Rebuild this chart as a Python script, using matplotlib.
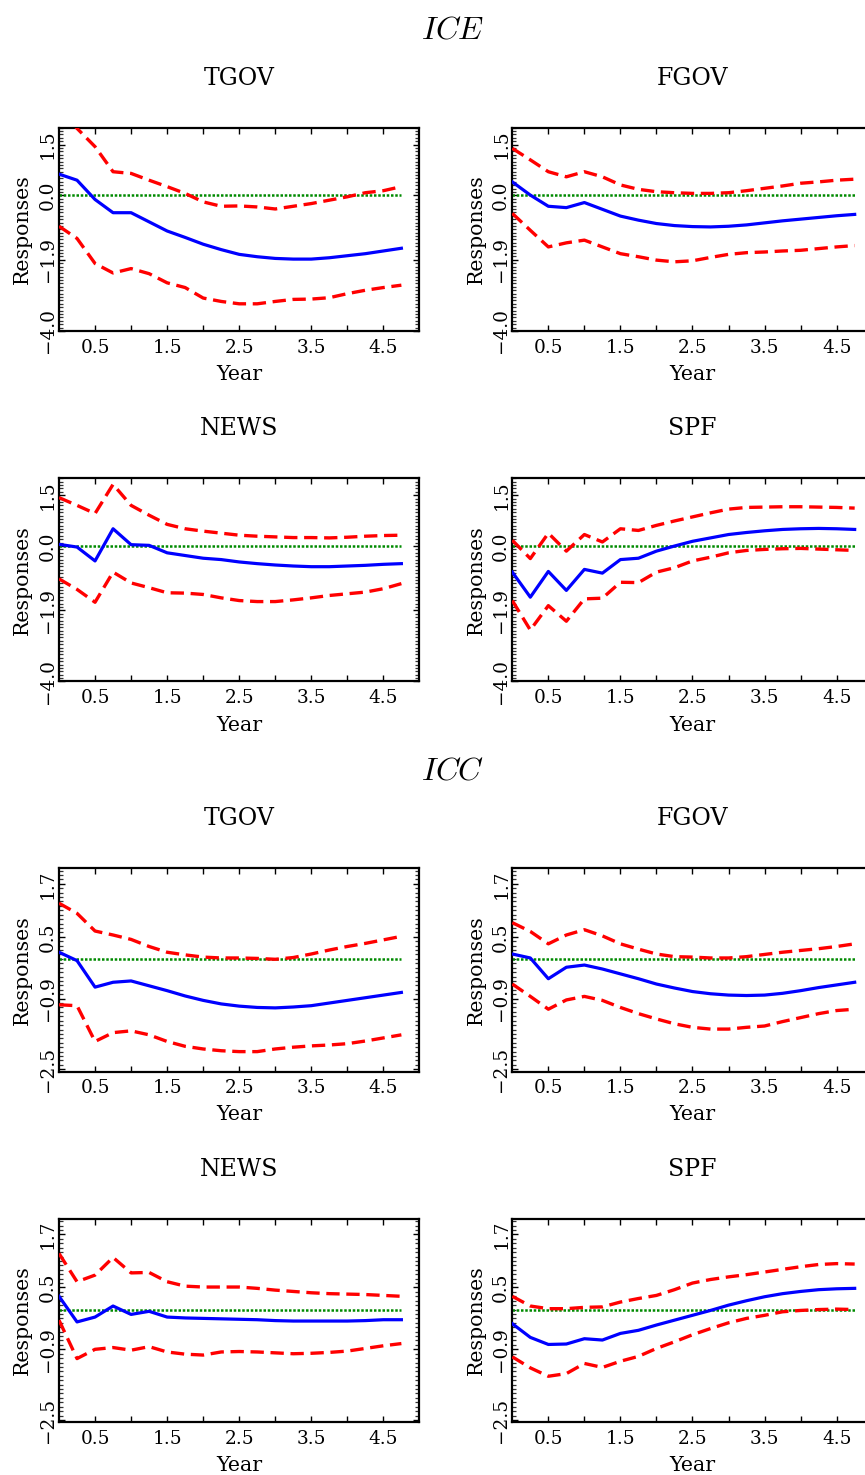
import matplotlib
matplotlib.use("Agg")
import matplotlib.pyplot as plt
from matplotlib.ticker import MultipleLocator, FixedLocator
import numpy as np

plt.rcParams["mathtext.fontset"] = "cm"
plt.rcParams["font.family"] = ["DejaVu Serif"]

# Quarterly horizon, in years
years = np.arange(20) * 0.25

# ---- ICE: median response and error bands ----
ice_tgov_mid = [0.63, 0.45, -0.12, -0.51, -0.51, -0.78, -1.05, -1.24, -1.44, -1.60,
                -1.74, -1.81, -1.86, -1.88, -1.88, -1.84, -1.78, -1.72, -1.64, -1.56]
ice_tgov_hi = [2.55, 1.98, 1.44, 0.70, 0.65, 0.45, 0.26, 0.06, -0.19, -0.32,
               -0.31, -0.34, -0.40, -0.32, -0.24, -0.14, -0.04, 0.08, 0.14, 0.26]
ice_tgov_lo = [-0.91, -1.27, -2.01, -2.29, -2.16, -2.31, -2.58, -2.72, -3.03, -3.13,
               -3.20, -3.20, -3.13, -3.07, -3.06, -3.02, -2.90, -2.80, -2.72, -2.65]

ice_fgov_mid = [0.40, 0.01, -0.32, -0.36, -0.21, -0.41, -0.61, -0.73, -0.83, -0.89,
                -0.92, -0.93, -0.91, -0.87, -0.81, -0.75, -0.70, -0.65, -0.60, -0.56]
ice_fgov_hi = [1.39, 1.05, 0.70, 0.55, 0.70, 0.55, 0.31, 0.18, 0.11, 0.08,
               0.06, 0.06, 0.08, 0.14, 0.21, 0.28, 0.36, 0.40, 0.45, 0.48]
ice_fgov_lo = [-0.53, -1.03, -1.52, -1.40, -1.32, -1.52, -1.72, -1.81, -1.91, -1.96,
               -1.93, -1.83, -1.74, -1.69, -1.67, -1.64, -1.62, -1.57, -1.52, -1.48]

ice_news_mid = [0.05, -0.03, -0.44, 0.51, 0.04, 0.02, -0.20, -0.28, -0.36, -0.40,
                -0.47, -0.52, -0.56, -0.59, -0.61, -0.61, -0.59, -0.57, -0.54, -0.52]
ice_news_hi = [1.43, 1.20, 0.96, 1.82, 1.20, 0.91, 0.64, 0.51, 0.44, 0.38,
               0.32, 0.29, 0.27, 0.25, 0.25, 0.24, 0.26, 0.29, 0.31, 0.32]
ice_news_lo = [-0.97, -1.28, -1.66, -0.77, -1.09, -1.23, -1.38, -1.39, -1.43, -1.53,
               -1.61, -1.64, -1.64, -1.59, -1.53, -1.46, -1.41, -1.36, -1.26, -1.11]

ice_spf_mid = [-0.77, -1.51, -0.75, -1.31, -0.69, -0.80, -0.40, -0.36, -0.15, 0.00,
               0.14, 0.24, 0.34, 0.40, 0.45, 0.49, 0.51, 0.52, 0.51, 0.49]
ice_spf_hi = [0.17, -0.37, 0.38, -0.15, 0.34, 0.12, 0.51, 0.46, 0.61, 0.74,
              0.86, 0.98, 1.09, 1.14, 1.15, 1.16, 1.16, 1.15, 1.14, 1.12]
ice_spf_lo = [-1.61, -2.48, -1.76, -2.22, -1.56, -1.54, -1.07, -1.08, -0.77, -0.64,
              -0.44, -0.33, -0.20, -0.13, -0.10, -0.08, -0.07, -0.09, -0.11, -0.13]

# ---- ICC: median response and error bands ----
icc_tgov_mid = [0.15, -0.04, -0.64, -0.53, -0.50, -0.61, -0.72, -0.84, -0.94, -1.02,
                -1.07, -1.10, -1.11, -1.09, -1.06, -1.00, -0.94, -0.88, -0.82, -0.76]
icc_tgov_hi = [1.26, 1.03, 0.63, 0.54, 0.44, 0.28, 0.15, 0.09, 0.04, 0.02,
               0.02, 0.01, -0.01, 0.03, 0.11, 0.20, 0.28, 0.35, 0.43, 0.51]
icc_tgov_lo = [-1.04, -1.06, -1.87, -1.67, -1.63, -1.72, -1.87, -1.98, -2.04, -2.08,
               -2.10, -2.10, -2.04, -2.00, -1.97, -1.95, -1.92, -1.86, -1.79, -1.72]

icc_fgov_mid = [0.11, 0.02, -0.45, -0.19, -0.14, -0.23, -0.34, -0.45, -0.57, -0.66,
                -0.74, -0.79, -0.82, -0.83, -0.82, -0.78, -0.72, -0.65, -0.59, -0.53]
icc_fgov_hi = [0.82, 0.62, 0.34, 0.54, 0.66, 0.52, 0.34, 0.22, 0.11, 0.05,
               0.04, 0.02, 0.02, 0.05, 0.10, 0.15, 0.19, 0.23, 0.28, 0.34]
icc_fgov_lo = [-0.57, -0.85, -1.14, -0.93, -0.85, -0.94, -1.10, -1.24, -1.36, -1.47,
               -1.55, -1.59, -1.59, -1.55, -1.52, -1.42, -1.33, -1.24, -1.17, -1.14]

icc_news_mid = [0.30, -0.28, -0.17, 0.08, -0.11, -0.04, -0.17, -0.19, -0.20, -0.21,
                -0.22, -0.23, -0.25, -0.26, -0.26, -0.26, -0.26, -0.25, -0.23, -0.23]
icc_news_hi = [1.27, 0.63, 0.78, 1.18, 0.83, 0.84, 0.63, 0.53, 0.51, 0.51,
               0.51, 0.48, 0.44, 0.41, 0.38, 0.36, 0.35, 0.34, 0.32, 0.30]
icc_news_lo = [-0.24, -1.11, -0.90, -0.86, -0.92, -0.84, -0.96, -1.01, -1.03, -0.96,
               -0.95, -0.96, -0.98, -1.00, -0.99, -0.97, -0.94, -0.88, -0.82, -0.77]

icc_spf_mid = [-0.32, -0.63, -0.79, -0.78, -0.66, -0.69, -0.54, -0.47, -0.35, -0.24,
               -0.13, -0.02, 0.10, 0.20, 0.29, 0.36, 0.41, 0.45, 0.47, 0.48]
icc_spf_hi = [0.30, 0.08, 0.02, 0.02, 0.05, 0.06, 0.17, 0.25, 0.32, 0.45,
              0.60, 0.68, 0.74, 0.79, 0.85, 0.91, 0.97, 1.02, 1.04, 1.03]
icc_spf_lo = [-1.07, -1.32, -1.51, -1.45, -1.22, -1.31, -1.17, -1.06, -0.88, -0.73,
              -0.57, -0.43, -0.30, -0.20, -0.13, -0.05, -0.02, 0.00, 0.01, 0.00]

variables = ["TGOV", "FGOV", "NEWS", "SPF"]
x_tick_labels = ["0.5", "1.5", "2.5", "3.5", "4.5"]
ice_ytick_values = [-4.0, -1.9, 0.0, 1.5]
ice_ytick_labels = ["\u22124.0", "\u22121.9", "0.0", "1.5"]
icc_ytick_values = [-2.5, -0.9, 0.5, 1.7]
icc_ytick_labels = ["\u22122.5", "\u22120.9", "0.5", "1.7"]

ice_series = [(ice_tgov_mid, ice_tgov_lo, ice_tgov_hi),
              (ice_fgov_mid, ice_fgov_lo, ice_fgov_hi),
              (ice_news_mid, ice_news_lo, ice_news_hi),
              (ice_spf_mid, ice_spf_lo, ice_spf_hi)]
icc_series = [(icc_tgov_mid, icc_tgov_lo, icc_tgov_hi),
              (icc_fgov_mid, icc_fgov_lo, icc_fgov_hi),
              (icc_news_mid, icc_news_lo, icc_news_hi),
              (icc_spf_mid, icc_spf_lo, icc_spf_hi)]

W, H = 865, 1475
fig = plt.figure(figsize=(W / 100, H / 100), dpi=100)
fig.patch.set_facecolor("white")

AX_W, AX_H = 360.4, 203.2
COL_LEFT = [59.0, 512.3]
ROW_TOP = [127.7, 478.3, 868.3, 1219.0]


def fy(py):
    return 1 - py / H


def fx(px):
    return px / W


def draw_panel(left, top, name, series, ylim, yticks, ylabels):
    ax = fig.add_axes([fx(left), fy(top + AX_H), AX_W / W, AX_H / H])
    mid, lo, hi = series
    ax.plot(years, np.zeros_like(years), color="#008a00", lw=1.8,
            linestyle=(0, (1, 0.7)), zorder=2)
    ax.plot(years, hi, color="#ff0000", lw=2.4, linestyle=(0, (4, 2)), zorder=3)
    ax.plot(years, lo, color="#ff0000", lw=2.4, linestyle=(0, (4, 2)), zorder=3)
    ax.plot(years, mid, color="#0000ff", lw=2.3, zorder=4)
    ax.set_xlim(0, 5)
    ax.set_ylim(*ylim)

    ax.xaxis.set_major_locator(FixedLocator([0.5, 1.5, 2.5, 3.5, 4.5]))
    ax.xaxis.set_minor_locator(FixedLocator([1.0, 2.0, 3.0, 4.0]))
    ax.set_xticklabels(x_tick_labels, fontsize=13.3)
    ax.yaxis.set_major_locator(FixedLocator(yticks))
    ax.yaxis.set_minor_locator(MultipleLocator(0.1))
    ax.set_yticklabels(ylabels, fontsize=13.3, rotation=90, va="center")

    ax.tick_params(axis="x", which="both", direction="in", top=True, bottom=True,
                   length=4.5, width=1.0, pad=5.5)
    ax.tick_params(axis="y", which="major", direction="in", left=True, right=True,
                   length=4.5, width=1.0, pad=1.5)
    ax.tick_params(axis="y", which="minor", direction="in", left=True, right=True,
                   length=3.2, width=0.9, color="#333333")
    for sp in ax.spines.values():
        sp.set_linewidth(1.6)

    cx = left + AX_W / 2
    fig.text(fx(cx), fy(top - 43), name, ha="center", va="baseline", fontsize=17)
    fig.text(fx(cx), fy(top + AX_H + 49), "Year", ha="center", va="baseline",
             fontsize=14.8)
    fig.text(fx(left - 30.7), fy(top + AX_H / 2), "Responses", rotation=90,
             rotation_mode="anchor", ha="center", va="baseline", fontsize=14.8)
    return ax


for series_list, rows, ylim, yt, yl in [
        (ice_series, ROW_TOP[:2], (-4.0, 2.0), ice_ytick_values, ice_ytick_labels),
        (icc_series, ROW_TOP[2:], (-2.55, 2.05), icc_ytick_values, icc_ytick_labels)]:
    for i, name in enumerate(variables):
        r, c = divmod(i, 2)
        draw_panel(COL_LEFT[c], rows[r], name, series_list[i], ylim, yt, yl)

fig.text(fx(453), fy(38.3), r"$ICE$", ha="center", va="baseline", fontsize=23)
fig.text(fx(453), fy(779.3), r"$ICC$", ha="center", va="baseline", fontsize=23)

fig.savefig("out.png", dpi=100, facecolor="white")
